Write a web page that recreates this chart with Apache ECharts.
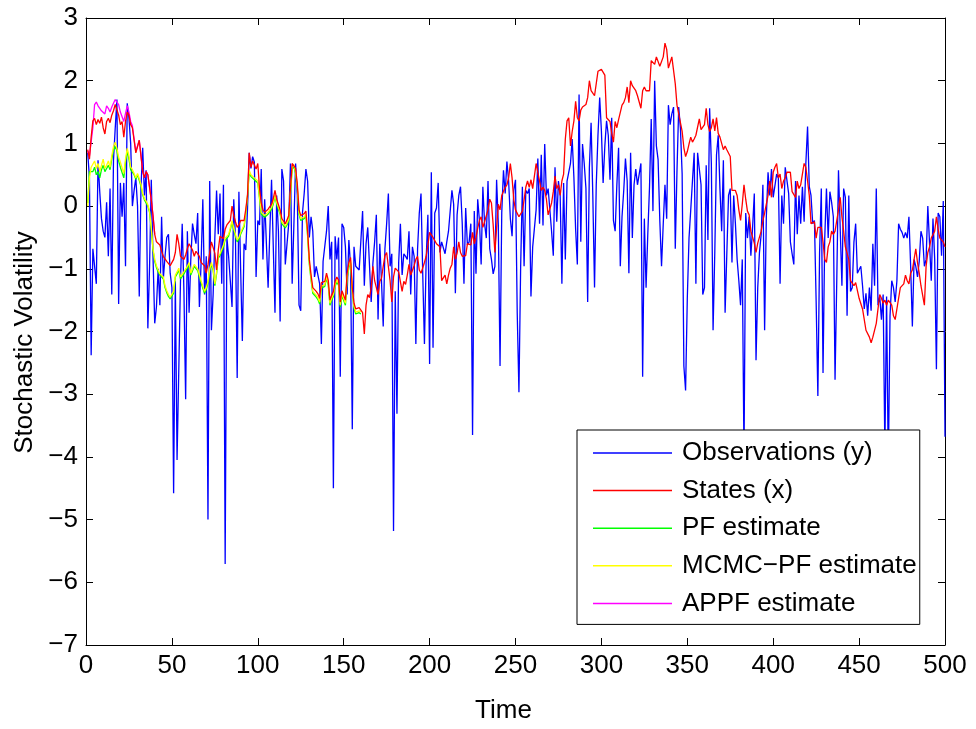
<!DOCTYPE html>
<html><head><meta charset="utf-8">
<script src="https://cdn.jsdelivr.net/npm/echarts@6/dist/echarts.min.js"></script>
<style>html,body{margin:0;padding:0;background:#fff}#c{width:976px;height:729px}</style>
</head><body><div id="c"></div>
<script>
// Observations (y), t = 1..500
const observations = [
0.85,0.45,-2.38,-0.68,-0.65,-1.24,0.73,0.23,-0.2,-0.4,
-0.5,0.06,-0.8,0.28,-1.41,0.73,1.24,1.7,-1.56,0.37,
-0.17,0.37,-0.96,1.64,1.41,1.0,0.0,0.25,0.45,0.0,
-1.44,0.3,0.93,0.17,0.57,-1.95,-0.96,0.42,-0.8,-1.87,
-1.61,-1.0,-1.58,-0.17,-1.16,-0.8,-0.5,-0.45,-1.07,-1.3,
-4.58,-1.2,-4.05,-4.02,-1.19,-0.28,-1.36,-3.08,-0.4,-1.7,
-0.85,-0.28,-0.45,-0.6,-0.11,-1.61,-0.9,0.11,-1.41,-0.8,
-5.0,0.4,-1.98,-1.41,-0.5,0.25,-0.45,0.2,-1.24,0.34,
-5.71,-0.5,-0.8,-1.19,-1.61,0.11,-0.5,-2.74,0.23,-1.0,
-2.15,-0.6,-0.7,-0.05,0.85,0.6,0.79,0.7,-1.13,-0.23,
-0.3,0.59,-0.85,0.11,0.14,-1.3,-0.4,0.42,0.39,-1.7,
0.17,-0.4,-1.84,0.59,0.4,-0.93,-0.9,-0.28,0.68,-1.24,
-0.3,0.68,0.17,-1.58,-1.67,-0.11,0.2,0.59,0.4,-0.5,
-0.17,-0.4,-1.13,-0.96,-0.99,-1.24,-2.2,-0.88,-0.88,-0.4,
0.0,-0.85,-0.57,-4.5,-0.48,-0.85,-0.5,-2.72,-0.28,-0.34,
-0.65,-1.41,-0.54,-0.96,-3.56,-0.65,-0.96,-0.96,-1.02,-0.99,
-0.08,-1.27,-0.6,-0.34,-0.31,-1.53,-0.91,-0.57,-0.14,-1.81,
-0.6,-1.2,-1.92,-0.68,-0.28,0.2,-0.96,-0.76,-5.18,-1.36,
-3.31,-0.9,-0.28,-1.1,-0.76,-0.8,-0.85,-0.4,-1.41,-0.65,
-0.8,-2.2,-0.68,-0.11,0.2,-1.08,-2.2,-0.85,-0.14,-2.52,
0.54,-2.26,-0.11,-0.03,0.37,-0.74,-0.57,-0.6,-0.76,-0.57,
-0.4,-0.37,0.25,0.03,-1.39,-0.14,0.17,0.31,-0.28,-1.24,
-0.03,-0.62,-0.57,-0.28,-3.65,-0.08,-1.08,0.11,-0.23,-0.93,
0.31,-0.28,-0.51,0.4,-0.68,-0.85,-1.08,-0.96,0.42,-0.3,
-2.55,-0.1,0.57,0.2,0.71,0.4,-0.2,-0.48,0.25,0.42,
-1.7,-2.97,-0.96,0.31,-0.96,0.25,0.2,0.28,-1.44,-0.65,
-0.68,-0.06,0.76,-0.28,0.82,-0.31,0.99,0.17,0.28,0.28,
-0.4,-0.79,0.62,-0.25,0.4,0.17,-1.24,0.37,-0.85,0.4,
0.37,0.68,1.07,0.45,-0.37,-0.93,1.78,-0.57,0.99,0.68,
0.28,-1.53,0.62,1.33,0.17,-1.3,0.34,1.13,1.73,1.2,
0.37,0.96,1.36,1.13,0.42,1.41,-0.23,-0.4,0.34,0.93,
-0.96,-0.17,0.25,0.76,0.4,-1.07,0.85,-0.51,0.34,0.59,
0.34,0.37,0.68,-2.72,-0.2,-1.3,-0.45,0.3,1.39,-0.08,
2.0,0.96,0.74,-0.23,-0.96,-0.28,0.34,-0.2,1.61,1.3,
1.47,1.58,-0.68,0.57,1.58,1.24,0.51,-2.55,-2.94,-1.47,
-0.51,-0.06,0.4,0.85,-1.24,0.85,0.59,0.34,-1.41,-1.3,
0.65,-0.54,1.56,0.68,-1.98,-0.74,0.82,1.13,0.28,-0.4,
0.73,-1.7,-0.76,0.17,0.28,-0.9,0.17,-0.28,-0.85,-1.19,
-1.58,-0.85,-4.0,-0.11,-0.51,-0.17,-0.79,-0.34,0.2,-2.46,
-1.3,-0.74,-0.45,0.34,-1.98,-0.17,0.54,0.17,0.59,0.14,
0.17,0.51,0.45,-1.24,0.17,-0.28,0.62,0.65,0.2,-0.57,
-0.76,-0.93,0.4,-0.45,0.17,-0.28,0.31,-0.25,0.68,1.27,
0.31,0.17,-0.28,-0.23,-1.53,-3.03,-0.74,0.28,-2.66,-0.51,
0.28,-0.51,0.23,0.06,-0.17,-2.77,-1.19,0.57,0.54,-1.27,
0.28,0.14,-1.75,0.17,-1.36,-1.3,-0.57,-0.28,-1.07,-1.1,
-0.96,-1.27,-1.64,-1.39,-1.75,-1.3,-1.67,-0.6,-1.27,0.28,
-1.58,-1.44,-1.81,-1.41,-3.9,-1.44,-4.2,-1.75,-1.19,-1.3,
-1.53,-1.19,-0.28,-0.37,-0.42,-0.51,-0.42,-0.51,-0.17,-0.96,
-1.92,-0.85,-0.96,-1.13,-0.88,-0.4,-0.51,-0.96,-0.85,0.0,
0.03,-1.19,-0.2,-0.85,-2.6,-0.11,-0.17,-0.79,0.08,-3.68
];
// States (x), t = 1..500
const states = [
0.9,0.75,1.1,1.36,1.4,1.3,1.38,1.32,1.42,1.25,
1.15,1.35,1.4,1.33,1.45,1.52,1.62,1.64,1.45,1.3,
1.35,1.1,1.35,1.5,1.45,1.3,1.25,1.05,0.85,0.95,
1.05,0.8,0.55,0.45,0.55,0.5,0.3,0.1,-0.15,-0.45,
-0.57,-0.55,-0.62,-0.72,-0.8,-0.78,-0.88,-0.9,-0.95,-0.93,
-0.85,-0.74,-0.45,-0.6,-0.8,-0.82,-0.85,-0.78,-0.68,-0.6,
-0.57,-0.7,-0.8,-0.72,-0.7,-0.8,-0.9,-0.93,-0.95,-1.07,
-0.93,-0.75,-0.57,-0.6,-0.75,-1.02,-0.7,-0.48,-0.5,-0.52,
-0.37,-0.3,-0.28,-0.23,0.0,-0.15,-0.25,-0.34,-0.3,-0.23,
-0.25,-0.23,-0.05,0.17,0.85,0.62,0.72,0.7,0.59,0.68,
0.28,0.05,-0.06,-0.1,-0.11,-0.05,-0.03,0.03,0.12,0.25,
0.11,0.08,-0.06,-0.2,-0.23,-0.28,-0.22,-0.15,0.28,0.68,
0.71,0.6,0.35,-0.06,-0.15,-0.17,-0.12,-0.08,-0.4,-0.85,
-1.1,-1.3,-1.32,-1.36,-1.4,-1.47,-1.22,-1.22,-1.2,-1.07,
-1.18,-1.5,-1.42,-1.36,-1.2,-1.13,-1.18,-1.53,-1.35,-1.36,
-1.5,-1.07,-0.9,-0.82,-1.3,-1.55,-1.64,-1.63,-1.62,-1.64,
-1.7,-2.04,-1.58,-1.41,-1.46,-1.3,-0.96,-1.19,-1.3,-1.41,
-1.2,-1.15,-0.96,-0.79,-0.74,-0.72,-1.19,-1.53,-1.13,-0.99,
-0.96,-1.05,-1.05,-1.36,-1.2,-1.25,-1.1,-0.93,-1.1,-1.08,
-0.95,-0.85,-0.8,-1.02,-1.07,-1.07,-0.9,-0.8,-0.62,-0.42,
-0.4,-0.5,-0.55,-0.6,-0.62,-0.65,-1.19,-1.19,-1.1,-1.24,
-1.1,-0.99,-0.93,-0.65,-0.85,-0.75,-0.57,-0.74,-0.8,-0.82,
-0.79,-0.6,-0.57,-0.62,-0.42,-0.6,-0.5,-0.35,-0.23,-0.17,
-0.34,-0.25,-0.22,-0.06,0.11,0.05,-0.3,-0.74,-0.35,0.03,
-0.06,0.17,0.2,0.3,0.34,0.45,0.68,0.45,0.1,-0.06,
-0.03,-0.17,-0.2,-0.08,0.1,0.3,0.4,0.3,0.42,0.28,
0.3,0.68,0.68,0.4,0.25,0.3,0.25,0.11,-0.14,-0.14,
0.05,0.23,0.48,0.28,0.34,0.17,0.4,0.51,1.07,1.36,
1.41,0.96,1.19,1.36,1.67,1.41,1.36,1.53,1.58,1.61,
1.62,1.73,2.0,1.84,1.8,1.76,1.73,2.15,2.12,2.18,
2.15,2.09,1.41,1.4,1.35,1.16,1.02,1.35,1.25,1.38,
1.38,1.61,1.65,1.73,1.9,1.65,2.0,1.92,1.9,1.84,
1.76,1.73,1.56,1.84,1.9,1.84,1.87,1.84,2.32,2.3,
2.26,2.38,2.4,2.23,2.23,2.38,2.6,2.5,2.2,2.18,
2.38,2.38,1.95,1.61,1.47,1.49,1.19,0.93,0.79,0.87,
0.99,1.1,1.02,1.07,1.13,1.16,1.39,1.22,1.19,1.3,
1.56,1.3,1.19,1.25,1.39,1.2,1.41,1.16,1.1,1.1,
0.9,0.96,0.9,0.93,0.79,0.25,0.22,0.25,0.17,-0.06,
-0.23,0.03,0.34,0.11,-0.08,-0.14,-0.4,-0.4,-0.59,-0.74,
-0.59,-0.57,-0.4,-0.23,-0.11,0.03,0.17,0.4,0.14,0.54,
0.62,0.68,0.45,0.51,0.28,0.4,0.45,0.54,0.57,0.54,
0.23,0.23,0.14,0.4,0.28,0.34,0.51,0.68,0.62,0.4,
0.17,-0.28,-0.31,-0.25,-0.51,-0.34,-0.37,-0.34,-0.57,-0.85,
-0.9,-0.65,-0.57,-0.4,-0.45,-0.4,-0.23,-0.06,0.14,-0.17,
-0.4,-0.65,-0.68,-0.85,-1.19,-1.22,-1.27,-1.22,-1.25,-1.47,
-1.5,-1.64,-1.67,-1.98,-2.0,-2.09,-2.18,-2.09,-2.09,-1.87,
-1.64,-1.41,-1.47,-1.55,-1.5,-1.58,-1.5,-1.5,-1.58,-1.75,
-1.81,-1.81,-1.47,-1.3,-1.27,-1.24,-1.1,-1.19,-1.24,-1.07,
-1.02,-0.85,-0.68,-0.9,-1.07,-1.27,-1.24,-1.58,-0.96,-0.74,
-0.65,-0.51,-0.54,-0.4,-0.17,-0.37,-0.51,-0.54,-0.57,-0.65
];
// PF estimate, t = 1..160 (later it lies under the states line)
const pfEstimate = [
0.05,0.55,0.58,0.55,0.62,0.5,0.55,0.45,0.58,0.65,
0.55,0.6,0.65,0.58,0.75,0.9,0.95,0.88,0.72,0.62,
0.62,0.45,0.7,0.88,0.75,0.58,0.55,0.5,0.43,0.5,
0.48,0.32,0.18,0.1,0.05,0.0,-0.1,-0.38,-0.7,-0.88,
-0.98,-1.05,-1.1,-1.13,-1.16,-1.3,-1.38,-1.44,-1.48,-1.5,
-1.39,-1.13,-1.08,-1.02,-1.16,-1.13,-1.08,-1.03,-0.99,-0.93,
-1.1,-1.03,-0.96,-0.99,-1.03,-1.05,-1.22,-1.31,-1.39,-1.33,
-1.23,-1.03,-0.93,-1.03,-1.27,-1.08,-0.83,-0.79,-0.77,-0.65,
-0.54,-0.51,-0.48,-0.38,-0.26,-0.38,-0.48,-0.57,-0.53,-0.45,
-0.43,-0.33,-0.13,0.14,0.54,0.47,0.49,0.42,0.39,0.37,
0.12,-0.13,-0.15,-0.18,-0.19,-0.13,-0.11,-0.05,0.03,0.15,
0.03,0.0,-0.13,-0.28,-0.31,-0.35,-0.3,-0.23,0.19,0.59,
0.63,0.52,0.27,-0.13,-0.23,-0.25,-0.2,-0.16,-0.48,-0.93,
-1.18,-1.39,-1.41,-1.45,-1.49,-1.56,-1.31,-1.3,-1.28,-1.15,
-1.26,-1.58,-1.5,-1.44,-1.28,-1.21,-1.26,-1.61,-1.43,-1.44,
-1.58,-1.15,-0.98,-0.9,-1.38,-1.63,-1.72,-1.71,-1.7,-1.72
];
// MCMC-PF estimate, t = 1..160
const mcmcEstimate = [
0.0,0.45,0.62,0.6,0.72,0.6,0.68,0.55,0.65,0.75,
0.6,0.65,0.72,0.62,0.8,0.95,1.02,0.92,0.78,0.7,
0.72,0.52,0.75,0.92,0.8,0.62,0.58,0.52,0.45,0.52,
0.5,0.35,0.2,0.12,0.08,0.02,-0.08,-0.35,-0.68,-0.85,
-0.95,-1.02,-1.08,-1.1,-1.13,-1.27,-1.35,-1.41,-1.45,-1.47,
-1.36,-1.1,-1.05,-0.99,-1.13,-1.1,-1.05,-1.0,-0.96,-0.9,
-1.07,-1.0,-0.93,-0.96,-1.0,-1.02,-1.19,-1.28,-1.36,-1.3,
-1.2,-1.0,-0.9,-1.0,-1.24,-1.05,-0.8,-0.76,-0.74,-0.62,
-0.51,-0.48,-0.45,-0.35,-0.23,-0.35,-0.45,-0.54,-0.5,-0.42,
-0.4,-0.3,-0.1,0.17,0.57,0.5,0.52,0.45,0.42,0.4,
0.15,-0.1,-0.12,-0.15,-0.16,-0.1,-0.08,-0.02,0.06,0.18,
0.06,0.03,-0.1,-0.25,-0.28,-0.32,-0.27,-0.2,0.22,0.62,
0.66,0.55,0.3,-0.1,-0.2,-0.22,-0.17,-0.13,-0.45,-0.9,
-1.15,-1.36,-1.38,-1.42,-1.46,-1.53,-1.28,-1.27,-1.25,-1.12,
-1.23,-1.55,-1.47,-1.41,-1.25,-1.18,-1.23,-1.58,-1.4,-1.41,
-1.55,-1.12,-0.95,-0.87,-1.35,-1.6,-1.69,-1.68,-1.67,-1.69
];
// APPF estimate, t = 1..40 (later it lies under the states line)
const appfEstimate = [
0.88,0.8,0.78,1.25,1.62,1.66,1.6,1.62,1.52,1.5,
1.47,1.6,1.56,1.5,1.58,1.64,1.7,1.73,1.62,1.5,
1.52,1.35,1.48,1.6,1.5,1.35,1.28,1.07,0.87,0.96,
1.05,0.8,0.55,0.45,0.55,0.5,0.3,0.1,-0.15,-0.45
];
const seriesNames = ['Observations (y)', 'States (x)', 'PF estimate', 'MCMC\u2212PF estimate', 'APPF estimate'];
const xTicks = { min: 0, max: 500, interval: 50 };
const yTicks = { min: -7, max: 3, interval: 1 };

const FONT = '"Liberation Sans", Arial, Helvetica, sans-serif';
const toPairs = arr => arr.map((v, i) => [i + 1, v]);
const minus = v => String(v).replace('-', '\u2212');

const axisCommon = {
  type: 'value',
  axisLine: { show: true, onZero: false, lineStyle: { color: '#000', width: 1 } },
  axisTick: { show: true, inside: true, length: 7, lineStyle: { color: '#000', width: 1 } },
  splitLine: { show: false }
};
const line = (name, data, color) => ({
  name, type: 'line', data: toPairs(data), symbol: 'none', showSymbol: false,
  lineStyle: { color, width: 1.3 }, itemStyle: { color }, animation: false, z: 2
});

const chart = echarts.init(document.getElementById('c'), null, { renderer: 'canvas' });
chart.setOption({
  backgroundColor: '#fff',
  animation: false,
  grid: { left: 86, right: 31, top: 18, bottom: 73, containLabel: false },
  xAxis: [
    Object.assign({}, axisCommon, {
      position: 'bottom', min: xTicks.min, max: xTicks.max, interval: xTicks.interval,
      axisLabel: { color: '#000', fontSize: 26, fontFamily: FONT, margin: 8 },
      name: 'Time', nameLocation: 'middle', nameGap: 53,
      nameTextStyle: { color: '#000', fontSize: 26, fontFamily: FONT, padding: [0, 24, 0, 0] }
    }),
    Object.assign({}, axisCommon, {
      position: 'top', min: xTicks.min, max: xTicks.max, interval: xTicks.interval,
      axisLabel: { show: false }
    })
  ],
  yAxis: [
    Object.assign({}, axisCommon, {
      position: 'left', min: yTicks.min, max: yTicks.max, interval: yTicks.interval,
      axisLabel: { color: '#000', fontSize: 26, fontFamily: FONT, margin: 8, formatter: minus },
      name: 'Stochastic Volatility', nameLocation: 'middle', nameGap: 47,
      nameTextStyle: { color: '#000', fontSize: 26, fontFamily: FONT, padding: [0, 22, 0, 0] }
    }),
    Object.assign({}, axisCommon, {
      position: 'right', min: yTicks.min, max: yTicks.max, interval: yTicks.interval,
      axisLabel: { show: false }
    })
  ],
  legend: {
    data: seriesNames,
    orient: 'vertical', left: 577, top: 430,
    icon: 'rect', itemWidth: 79, itemHeight: 1.5, itemGap: 11.6,
    padding: [10, 3, 8, 16],
    backgroundColor: '#fff', borderColor: '#000', borderWidth: 1, borderRadius: 0,
    selectedMode: false,
    textStyle: { color: '#000', fontSize: 26, fontFamily: FONT, lineHeight: 26, padding: [0, 0, 0, 5] }
  },
  series: [
    line(seriesNames[0], observations, '#0000ff'),
    line(seriesNames[2], pfEstimate, '#00ff00'),
    line(seriesNames[3], mcmcEstimate, '#ffff00'),
    line(seriesNames[4], appfEstimate, '#ff00ff'),
    line(seriesNames[1], states, '#ff0000')
  ]
});
</script>
</body></html>
